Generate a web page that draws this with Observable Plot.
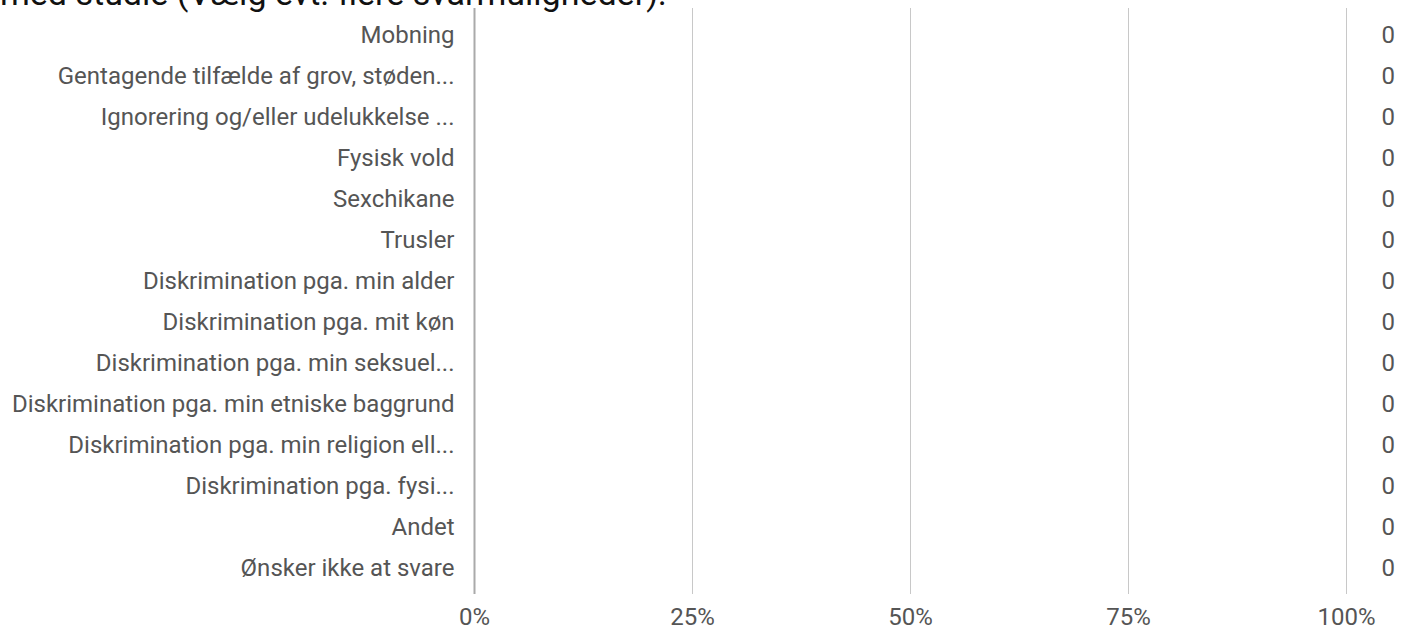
<!DOCTYPE html>
<html>
<head>
<meta charset="utf-8">
<script src="https://cdn.jsdelivr.net/npm/d3@7"></script>
<script src="https://cdn.jsdelivr.net/npm/@observablehq/plot@0.6"></script>
<style>
  html, body { margin: 0; padding: 0; background: #fff; overflow: hidden; }
  #wrap { position: relative; width: 1401px; height: 630px; }
  #title { position: absolute; left: 0; top: -27px; font-family: Roboto, "Liberation Sans", sans-serif; font-size: 34px; color: #111; white-space: nowrap; line-height: 40px; }
  #chart { position: absolute; left: 0; top: 0; }
</style>
</head>
<body>
<div id="wrap">
  <div id="chart"></div>
  <div id="title">med studie (Vælg evt. flere svarmuligheder):</div>
</div>
<script>
const categories = [
  "Mobning",
  "Gentagende tilfælde af grov, støden...",
  "Ignorering og/eller udelukkelse ...",
  "Fysisk vold",
  "Sexchikane",
  "Trusler",
  "Diskrimination pga. min alder",
  "Diskrimination pga. mit køn",
  "Diskrimination pga. min seksuel...",
  "Diskrimination pga. min etniske baggrund",
  "Diskrimination pga. min religion ell...",
  "Diskrimination pga. fysi...",
  "Andet",
  "Ønsker ikke at svare"
];
const counts = [0, 0, 0, 0, 0, 0, 0, 0, 0, 0, 0, 0, 0, 0];
const shares = [0, 0, 0, 0, 0, 0, 0, 0, 0, 0, 0, 0, 0, 0];
const xTicks = [0, 0.25, 0.5, 0.75, 1];

const data = categories.map((c, i) => ({category: c, count: counts[i], share: shares[i]}));

const chart = Plot.plot({
  width: 1401,
  height: 630,
  marginLeft: 474,
  marginRight: 55,
  marginTop: 8,
  marginBottom: 36,
  style: {fontFamily: "Roboto, 'Liberation Sans', sans-serif", fontSize: "24px", color: "#555", background: "#fff", overflow: "visible"},
  x: {domain: [0, 1], ticks: xTicks, tickFormat: d3.format(".0%"), label: null},
  y: {domain: categories, label: null, padding: 0},
  marks: [
    Plot.ruleX(xTicks.slice(1), {stroke: "#c8c8c8", strokeWidth: 1}),
    Plot.ruleX([0], {stroke: "#aaa", strokeWidth: 2}),
    Plot.barX(data, {x: "share", y: "category", fill: "#4472c4", insetTop: 8, insetBottom: 8}),
    Plot.axisX({ticks: xTicks, tickFormat: d3.format(".0%"), tickSize: 0, tickPadding: 13, fontSize: 24, fill: "#555", label: null}),
    Plot.axisY({tickSize: 0, tickPadding: 20, fontSize: 24, fill: "#555", label: null}),
    Plot.text(data, {x: () => 1, y: "category", text: d => String(d.count), dx: 35, textAnchor: "start", fontSize: 24, fill: "#555"})
  ]
});
document.getElementById("chart").appendChild(chart);
</script>
</body>
</html>
